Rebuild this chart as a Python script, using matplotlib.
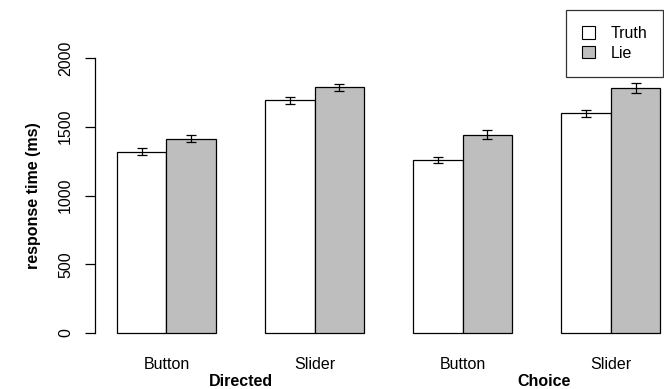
import matplotlib
matplotlib.use("Agg")
import matplotlib.pyplot as plt
from matplotlib.patches import Patch
import numpy as np

plt.rcParams['font.family'] = ['Liberation Sans', 'DejaVu Sans']

# Mean response times (ms) and standard errors
conditions = ["Button", "Slider", "Button", "Slider"]
tasks = ["Directed", "Choice"]
truth_means = [1318, 1692, 1258, 1598]
lie_means = [1413, 1788, 1442, 1780]
truth_se = [24, 26, 25, 27]
lie_se = [24, 25, 34, 36]
series_labels = ["Truth", "Lie"]
yticks = [0, 500, 1000, 1500, 2000]

W, H = 664, 389
fig = plt.figure(figsize=(W / 100, H / 100), dpi=100)
# plot region (pixel coordinates converted to figure fraction)
left_px, right_px, top_px, bottom_px = 95.3, 682.0, 47.0, 344.0
ax = fig.add_axes([left_px / W, (H - bottom_px) / H,
                   (right_px - left_px) / W, (bottom_px - top_px) / H])

n = len(conditions)
truth_left = np.array([1 + 3 * g for g in range(n)])
lie_left = truth_left + 1
truth_x = truth_left + 0.5
lie_x = lie_left + 0.5

bar_kw = dict(width=1.0, edgecolor="black", linewidth=0.9)
ax.bar(truth_x, truth_means, color="white", **bar_kw)
ax.bar(lie_x, lie_means, color="#BEBEBE", **bar_kw)

err_kw = dict(fmt="none", ecolor="black", elinewidth=0.9, capsize=3.6, capthick=0.9)
ax.errorbar(truth_x, truth_means, yerr=truth_se, **err_kw)
ax.errorbar(lie_x, lie_means, yerr=lie_se, **err_kw)

ax.set_xlim(0.56, 12.44)
ax.set_ylim(-80, 2080)

for s in ["top", "right", "bottom"]:
    ax.spines[s].set_visible(False)
ax.spines["left"].set_bounds(0, 2000)
ax.spines["left"].set_linewidth(0.9)

ax.set_yticks(yticks)
ax.set_yticklabels([str(v) for v in yticks], rotation=90, va="center", fontsize=11.5)
ax.tick_params(axis="y", length=7, width=0.9, pad=9)
ax.set_xticks([])

ax.set_ylabel("response time (ms)", fontweight="bold", fontsize=11.5, labelpad=12)

# condition labels under each pair of bars
group_centers = truth_left + 1.0
trans = ax.get_xaxis_transform()
for xc, lab in zip(group_centers, conditions):
    ax.text(xc, -0.068, lab, transform=trans, ha="center", va="center", fontsize=11.5)
# task labels between pairs
task_pos = [(group_centers[0] + group_centers[1]) / 2,
            (group_centers[2] + group_centers[3]) / 2 + 0.15]
for xc, lab in zip(task_pos, tasks):
    ax.text(xc, -0.125, lab, transform=trans, ha="center", va="center",
            fontsize=11.5, fontweight="bold")

handles = [Patch(facecolor="white", edgecolor="black", linewidth=0.8),
           Patch(facecolor="#BEBEBE", edgecolor="black", linewidth=0.8)]
leg = fig.legend(handles, series_labels, loc="upper left",
                 bbox_to_anchor=(566 / W, 1 - 10 / H), frameon=True,
                 fancybox=False, edgecolor="black", fontsize=11.5,
                 handlelength=0.8, handleheight=0.8, handletextpad=1.0,
                 borderpad=1.0, labelspacing=0.3, borderaxespad=0)
leg.get_frame().set_linewidth(0.9)

fig.savefig("out.png", dpi=100)
